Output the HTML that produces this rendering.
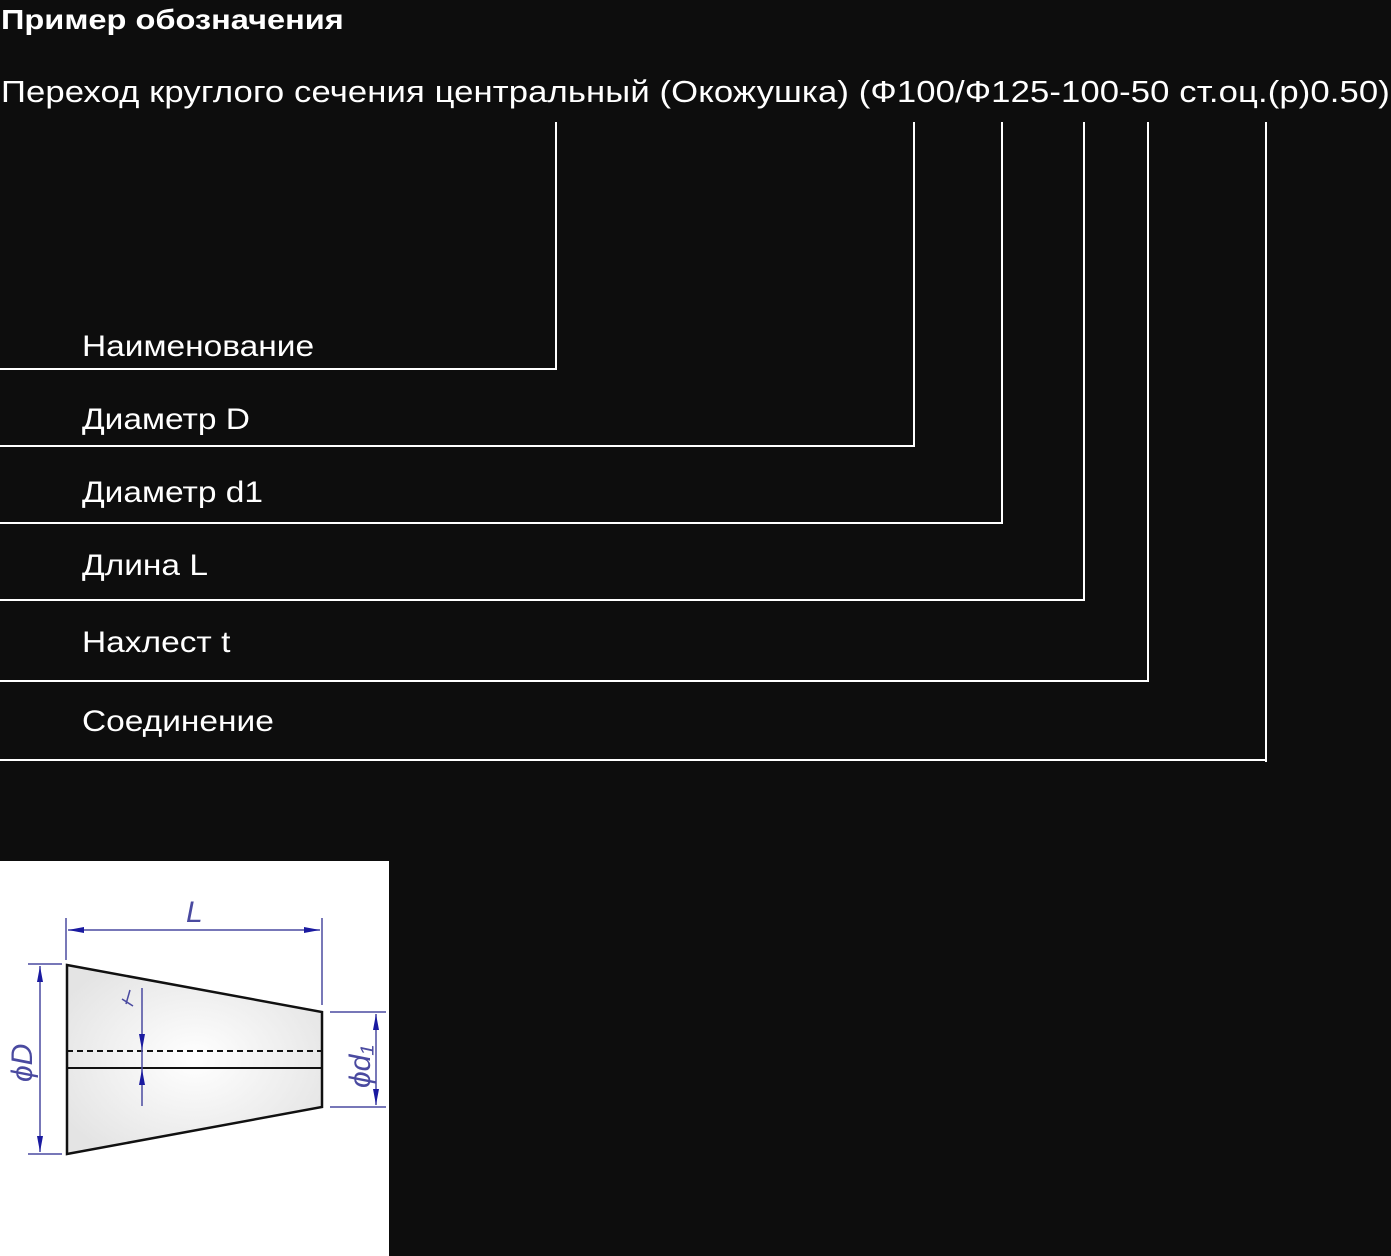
<!DOCTYPE html>
<html><head><meta charset="utf-8"><style>
body{margin:0;width:1391px;height:1256px;background:#0d0d0d;overflow:hidden;position:relative;font-family:"Liberation Sans","DejaVu Sans",sans-serif;color:#fff}
.t{position:absolute;white-space:nowrap;transform-origin:0 0}
.v{position:absolute;background:#fff;width:2px}
.h{position:absolute;background:#fff;height:2px;left:0}
.l{position:absolute;left:82px;font-size:30px;line-height:30px;white-space:nowrap;transform:scaleX(1.116);transform-origin:0 0}
</style></head><body>
<div class="t" style="left:1px;top:4px;font-size:28px;font-weight:bold;line-height:32px;transform:scaleX(1.163)">Пример обозначения</div>
<div class="t" style="left:1px;top:74px;font-size:30.5px;line-height:36px;letter-spacing:0.1px;transform:scaleX(1.136)">Переход круглого сечения центральный (Окожушка) (Ф100/Ф125-100-50 ст.оц.(р)0.50)</div>
<div class="v" style="left:555px;top:122px;height:248px"></div><div class="h" style="top:368px;width:557px"></div>
<div class="v" style="left:913px;top:122px;height:325px"></div><div class="h" style="top:445px;width:915px"></div>
<div class="v" style="left:1001px;top:122px;height:402px"></div><div class="h" style="top:522px;width:1003px"></div>
<div class="v" style="left:1083px;top:122px;height:479px"></div><div class="h" style="top:599px;width:1085px"></div>
<div class="v" style="left:1147px;top:122px;height:560px"></div><div class="h" style="top:680px;width:1149px"></div>
<div class="v" style="left:1265px;top:122px;height:640px"></div><div class="h" style="top:759px;width:1267px"></div>
<div class="l" style="top:332px">Наименование</div>
<div class="l" style="top:405px">Диаметр D</div>
<div class="l" style="top:478px">Диаметр d1</div>
<div class="l" style="top:551px">Длина L</div>
<div class="l" style="top:628px">Нахлест t</div>
<div class="l" style="top:707px">Соединение</div>
<svg style="position:absolute;left:0;top:861px" width="389" height="395" viewBox="0 861 389 395">
<defs><radialGradient id="g" cx="0.5" cy="0.5" r="0.6"><stop offset="0" stop-color="#fff"/><stop offset="1" stop-color="#e4e4e4"/></radialGradient></defs>
<rect x="0" y="861" width="389" height="395" fill="#fff"/>
<polygon points="67,965 322,1012 322,1107 67,1154" fill="url(#g)" stroke="#111" stroke-width="2.5"/>
<line x1="67" y1="1051" x2="322" y2="1051" stroke="#111" stroke-width="2" stroke-dasharray="6,4"/>
<line x1="67" y1="1068" x2="322" y2="1068" stroke="#111" stroke-width="2"/>
<g stroke="#4a4aa0" stroke-width="1.5" fill="none">
<line x1="66" y1="918" x2="66" y2="960"/><line x1="322" y1="918" x2="322" y2="1005"/>
<line x1="68" y1="930" x2="320" y2="930"/>
<line x1="28" y1="964" x2="62" y2="964"/><line x1="28" y1="1154" x2="62" y2="1154"/>
<line x1="40" y1="966" x2="40" y2="1152"/>
<line x1="330" y1="1012" x2="386" y2="1012"/><line x1="330" y1="1107" x2="386" y2="1107"/>
<line x1="376" y1="1014" x2="376" y2="1105"/>
<line x1="142" y1="988" x2="142" y2="1106"/>
<line x1="130" y1="990" x2="126" y2="1004"/>
<line x1="122" y1="999" x2="133" y2="1006"/>
</g>
<g fill="#1a1aa0">
<polygon points="68,930 84,927 84,933"/><polygon points="320,930 304,927 304,933"/>
<polygon points="40,966 37,982 43,982"/><polygon points="40,1152 37,1136 43,1136"/>
<polygon points="376,1014 373,1030 379,1030"/><polygon points="376,1105 373,1089 379,1089"/>
<polygon points="142,1050 139,1034 145,1034"/><polygon points="142,1069 139,1085 145,1085"/>
</g>
<g fill="#4a4aa0" font-family="Liberation Sans,sans-serif" font-style="italic" font-size="30">
<text x="186" y="922">L</text>
<text transform="translate(32,1082) rotate(-90)">ϕD</text>
<text transform="translate(370,1088) rotate(-90)">ϕd₁</text>
</g>
</svg>
</body></html>
